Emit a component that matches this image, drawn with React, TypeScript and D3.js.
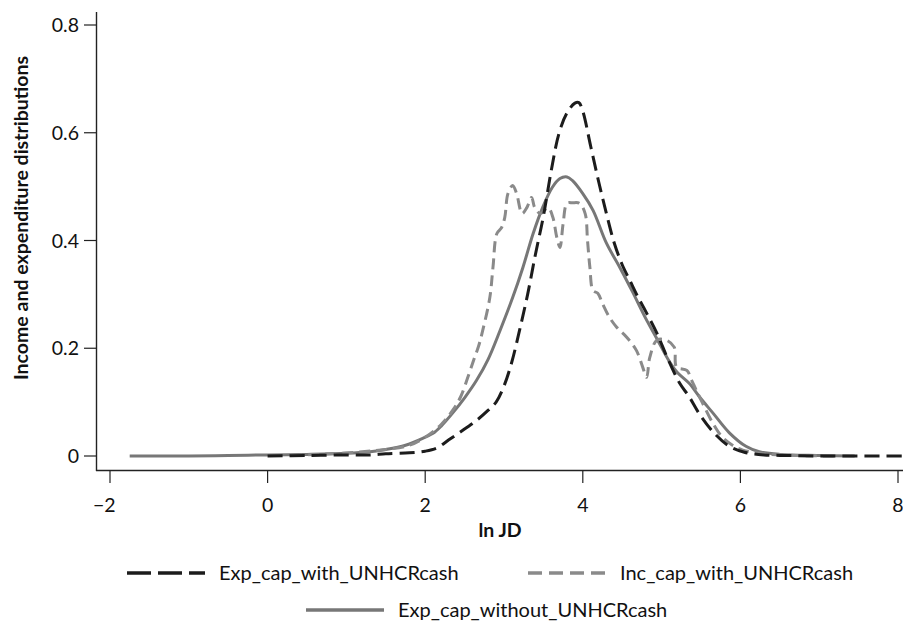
import React from "react";
import * as d3 from "d3";

const X_TICKS = [-2, 0, 2, 4, 6, 8];
const Y_TICKS = [0, 0.2, 0.4, 0.6, 0.8];
const X_TICK_LABELS = ["\u22122", "0", "2", "4", "6", "8"];
const Y_TICK_LABELS = ["0", "0.2", "0.4", "0.6", "0.8"];

const SERIES_NAMES = ["Exp_cap_with_UNHCRcash", "Inc_cap_with_UNHCRcash", "Exp_cap_without_UNHCRcash"];

// Exp_cap_with_UNHCRcash (black dashed)
const expWithX = [0, 0.5, 1.0, 1.3, 1.5, 1.8, 2.0, 2.15, 2.3, 2.45, 2.66, 2.8, 2.9, 3.0, 3.1, 3.2, 3.3, 3.4, 3.5, 3.6, 3.7, 3.8, 3.9, 3.95, 4.0, 4.1, 4.2, 4.3, 4.4, 4.5, 4.6, 4.7, 4.8, 4.94, 5.08, 5.23, 5.35, 5.48, 5.67, 5.86, 6.05, 6.3, 6.6, 7.0, 7.5, 8.05];
const expWithY = [0, 0.001, 0.002, 0.002, 0.004, 0.006, 0.009, 0.015, 0.03, 0.045, 0.067, 0.085, 0.1, 0.13, 0.175, 0.235, 0.3, 0.375, 0.445, 0.53, 0.6, 0.637, 0.655, 0.656, 0.64, 0.575, 0.51, 0.45, 0.395, 0.355, 0.325, 0.295, 0.268, 0.228, 0.18, 0.135, 0.11, 0.078, 0.042, 0.018, 0.007, 0.002, 0.001, 0, 0, 0];

// Inc_cap_with_UNHCRcash (grey dashed)
const incWithX = [0.3, 0.8, 1.2, 1.5, 1.8, 2.0, 2.2, 2.35, 2.45, 2.55, 2.62, 2.68, 2.73, 2.82, 2.86, 2.91, 2.97, 3.01, 3.05, 3.11, 3.16, 3.23, 3.29, 3.35, 3.39, 3.46, 3.56, 3.62, 3.67, 3.71, 3.75, 3.8, 3.87, 3.96, 4.03, 4.06, 4.09, 4.13, 4.19, 4.25, 4.34, 4.43, 4.56, 4.68, 4.76, 4.81, 4.85, 4.94, 5.06, 5.16, 5.19, 5.32, 5.38, 5.44, 5.52, 5.65, 5.77, 5.9, 6.03, 6.3, 6.7, 7.2];
const incWithY = [0.001, 0.004, 0.008, 0.012, 0.02, 0.035, 0.058, 0.085, 0.11, 0.15, 0.18, 0.205, 0.233, 0.294, 0.35, 0.413, 0.424, 0.443, 0.487, 0.502, 0.487, 0.45, 0.461, 0.48, 0.461, 0.45, 0.461, 0.443, 0.406, 0.387, 0.431, 0.469, 0.47, 0.469, 0.45, 0.4, 0.35, 0.307, 0.302, 0.283, 0.257, 0.239, 0.22, 0.196, 0.165, 0.146, 0.183, 0.215, 0.215, 0.202, 0.165, 0.159, 0.141, 0.122, 0.098, 0.061, 0.035, 0.02, 0.011, 0.004, 0.001, 0];

// Exp_cap_without_UNHCRcash (grey solid)
const expWithoutX = [-1.75, -1, -0.5, 0, 0.5, 1.0, 1.3, 1.5, 1.75, 2.0, 2.1, 2.2, 2.35, 2.5, 2.65, 2.8, 2.95, 3.11, 3.24, 3.37, 3.49, 3.61, 3.71, 3.8, 3.87, 4.0, 4.13, 4.3, 4.47, 4.63, 4.8, 4.95, 5.1, 5.2, 5.35, 5.48, 5.65, 5.86, 6.07, 6.24, 6.5, 7.0, 7.45];
const expWithoutY = [0, 0, 0.001, 0.002, 0.003, 0.005, 0.008, 0.012, 0.02, 0.035, 0.042, 0.055, 0.08, 0.108, 0.14, 0.18, 0.233, 0.294, 0.35, 0.413, 0.461, 0.498, 0.515, 0.518, 0.511, 0.487, 0.456, 0.395, 0.35, 0.305, 0.255, 0.215, 0.175, 0.155, 0.135, 0.11, 0.08, 0.043, 0.018, 0.008, 0.003, 0.001, 0];

const FONT = "Lato, 'Open Sans', sans-serif";

export default function App() {
  const x = d3.scaleLinear().domain([-2, 8]).range([110, 898]);
  const y = d3.scaleLinear().domain([0, 0.8]).range([456, 25]);

  const line = d3
    .line<[number, number]>()
    .x((d) => x(d[0]))
    .y((d) => y(d[1]))
    .curve(d3.curveCatmullRom.alpha(0.5));

  const zip = (a: number[], b: number[]) => a.map((v, i) => [v, b[i]] as [number, number]);

  const series = [
    { name: SERIES_NAMES[2], d: zip(expWithoutX, expWithoutY), color: "#777777", dash: "", legendDash: "" },
    { name: SERIES_NAMES[1], d: zip(incWithX, incWithY), color: "#8a8a8a", dash: "11,6", legendDash: "14,7" },
    { name: SERIES_NAMES[0], d: zip(expWithX, expWithY), color: "#1c1c1c", dash: "15,7", legendDash: "24,7" },
  ];

  const legendItems = [
    { s: series[2], x0: 127, yy: 573 },
    { s: series[1], x0: 528, yy: 573 },
    { s: series[0], x0: 306, yy: 610 },
  ];

  return (
    <svg width={903} height={621} style={{ position: "absolute", left: 0, top: 0, background: "#fff" }} fontFamily={FONT}>
      <rect width={903} height={621} fill="#fff" />
      {/* axes */}
      <line x1={96.5} x2={96.5} y1={12} y2={471} stroke="#222" strokeWidth={1.4} />
      <line x1={96} x2={903} y1={470.5} y2={470.5} stroke="#222" strokeWidth={1.4} />
      {Y_TICKS.map((t, i) => (
        <g key={"y" + i}>
          <line x1={84} x2={96.5} y1={y(t)} y2={y(t)} stroke="#222" strokeWidth={1.2} />
          <text x={79} y={y(t)} dy="0.36em" textAnchor="end" fontSize={19.5} fill="#111">
            {Y_TICK_LABELS[i]}
          </text>
        </g>
      ))}
      {X_TICKS.map((t, i) => {
        const neg = t < 0;
        return (
          <g key={"x" + i}>
            <line x1={x(t)} x2={x(t)} y1={470.5} y2={483} stroke="#222" strokeWidth={1.2} />
            <text x={neg ? x(t) + 5.7 : x(t)} y={505} dy="0.36em" textAnchor={neg ? "end" : "middle"} fontSize={19.5} fill="#111">
              {X_TICK_LABELS[i]}
            </text>
          </g>
        );
      })}
      <text x={500} y={530} dy="0.36em" textAnchor="middle" fontSize={19.5} fontWeight="bold" fill="#111">
        ln JD
      </text>
      <text
        transform="translate(21,218) rotate(-90)"
        textAnchor="middle"
        dy="0.36em"
        fontSize={19.5}
        fontWeight="bold"
        fill="#111"
      >
        Income and expenditure distributions
      </text>
      {/* series */}
      {series.map((s, i) => (
        <path key={i} d={line(s.d) || ""} fill="none" stroke={s.color} strokeWidth={3} strokeDasharray={s.dash || undefined} />
      ))}
      {/* legend */}
      {legendItems.map((li, i) => (
        <g key={"l" + i}>
          <line x1={li.x0} x2={li.x0 + 78} y1={li.yy} y2={li.yy} stroke={li.s.color} strokeWidth={3.5} strokeDasharray={li.s.legendDash || undefined} />
          <text x={li.x0 + 92} y={li.yy} dy="0.36em" fontSize={20} fill="#111">
            {li.s.name}
          </text>
        </g>
      ))}
    </svg>
  );
}
